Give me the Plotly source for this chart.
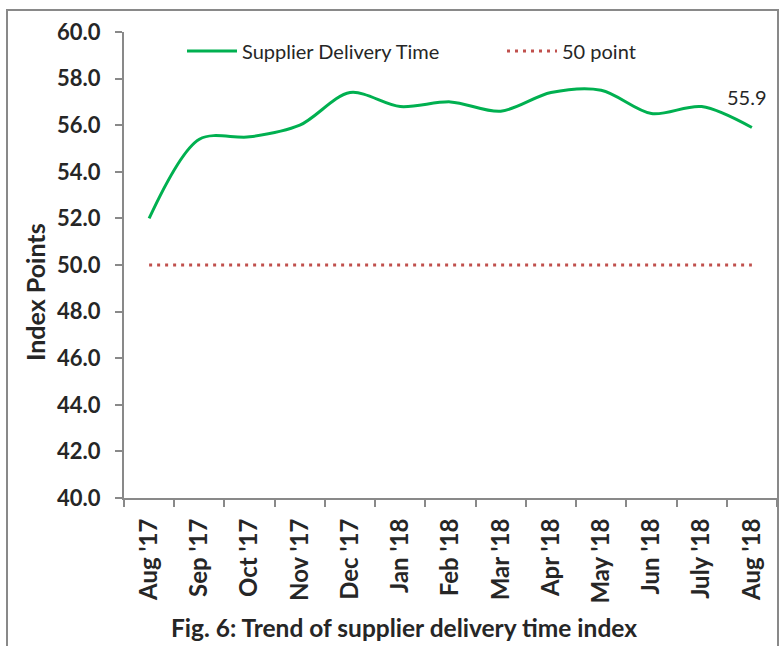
import plotly.graph_objects as go

months = ["Aug '17", "Sep '17", "Oct '17", "Nov '17", "Dec '17", "Jan '18", "Feb '18",
          "Mar '18", "Apr '18", "May '18", "Jun '18", "July '18", "Aug '18"]
supplier_delivery = [52.0, 55.4, 55.5, 56.0, 57.4, 56.8, 57.0, 56.6, 57.4, 57.5, 56.5, 56.8, 55.9]
fifty_point = [50.0] * len(months)
y_ticks = [40, 42, 44, 46, 48, 50, 52, 54, 56, 58, 60]

FONT = "Lato"
TXT = "#262626"
GREY = "#898989"
W, H = 781, 646
L, R, T, B = 124, 4, 32, 148
pw, ph = W - L - R, H - T - B


def px(x):
    return (x - L) / pw


def py(y):
    return (H - B - y) / ph


fig = go.Figure()
fig.add_trace(go.Scatter(x=months, y=supplier_delivery, mode="lines", name="Supplier Delivery Time",
                         legend="legend",
                         line=dict(color="#00B050", width=3, shape="spline", smoothing=0.9)))
fig.add_trace(go.Scatter(x=months, y=fifty_point, mode="lines", name="50 point",
                         legend="legend2",
                         line=dict(color="#C0504D", width=3, dash="3px,5px")))

legend_common = dict(yanchor="middle", xanchor="left", itemwidth=50,
                     font=dict(family=FONT, size=20, color=TXT), bgcolor="rgba(0,0,0,0)",
                     borderwidth=0)

fig.update_layout(
    width=W, height=H,
    margin=dict(l=L, r=R, t=T, b=B, autoexpand=False),
    paper_bgcolor="white", plot_bgcolor="white",
    font=dict(family=FONT, color=TXT),
    showlegend=True,
    legend=dict(x=px(182), y=py(51), **legend_common),
    legend2=dict(x=px(502), y=py(51), **legend_common),
    xaxis=dict(type="category", showline=True, linecolor=GREY, linewidth=2,
               ticks="outside", ticklen=7, tickcolor=GREY, tickwidth=2,
               tickson="boundaries", tickangle=-90, showgrid=False, zeroline=False,
               automargin=False, ticklabelstandoff=9,
               tickfont=dict(family=FONT, size=24, color=TXT, weight="bold"),
               range=[-0.5, len(months) - 0.5]),
    yaxis=dict(range=[40, 60], tickvals=y_ticks, ticktext=[f"{v:.1f}" for v in y_ticks],
               showline=True, linecolor=GREY, linewidth=2,
               ticks="outside", ticklen=7, tickcolor=GREY, tickwidth=2,
               showgrid=False, zeroline=False, automargin=False, ticklabelstandoff=10,
               tickfont=dict(family=FONT, size=22, color=TXT, weight="bold")),
)

fig.add_annotation(x=months[-1], y=supplier_delivery[-1], text=f"{supplier_delivery[-1]:.1f}",
                   showarrow=False, xshift=-5, yshift=31,
                   font=dict(family=FONT, size=20, color=TXT))
fig.add_annotation(xref="paper", yref="paper", x=px(35), y=py(292), text="Index Points",
                   textangle=-90, showarrow=False, xanchor="center", yanchor="middle",
                   font=dict(family=FONT, size=25, color=TXT, weight="bold"))
fig.add_annotation(xref="paper", yref="paper", x=px(404), y=py(627),
                   text="Fig. 6: Trend of supplier delivery time index", showarrow=False,
                   xanchor="center", yanchor="middle",
                   font=dict(family=FONT, size=24.5, color=TXT, weight="bold"))
fig.add_shape(type="rect", xref="paper", yref="paper", x0=px(7), x1=px(778), y0=py(660), y1=py(10),
              line=dict(color=GREY, width=2), layer="below")

fig.write_html("out.html", config={"displayModeBar": False},
               post_script="document.body.style.margin='0px';document.body.style.overflow='hidden';")
